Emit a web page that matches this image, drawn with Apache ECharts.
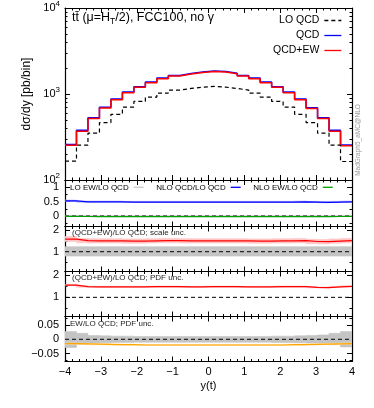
<!DOCTYPE html>
<html><head><meta charset="utf-8">
<script src="https://cdn.jsdelivr.net/npm/echarts@6/dist/echarts.min.js"></script>
<style>html,body{margin:0;padding:0;background:#fff}#c{width:374px;height:408px}</style>
</head><body><div id="c"></div>
<script>
// ---- data ----
const binEdges = [-4,-3.68,-3.36,-3.04,-2.72,-2.4,-2.08,-1.76,-1.44,-1.12,-0.8,-0.48,-0.16,0.16,0.48,0.8,1.12,1.44,1.76,2.08,2.4,2.72,3.04,3.36,3.68,4];
const logTicks = [100, 1000, 10000];
const loQCD = [166,254,350,465,580,705,820,921,1024,1110,1160,1202,1224,1202,1160,1110,1024,921,820,705,580,465,350,254,164];
const qcd   = [258,378,531,703,876,1057,1215,1376,1530,1640,1730,1808,1855,1826,1745,1640,1530,1376,1215,1057,876,693,531,378,255];
const qcdEW = [253,370,519,689,860,1037,1195,1354,1506,1617,1705,1783,1831,1799,1721,1617,1506,1354,1195,1037,860,677,519,370,250];

const loEwOverLo   = [0.003,0.003,0.003,0.003,0.003,0.003,0.003,0.003,0.003,0.003,0.003,0.003,0.003,0.003,0.003,0.003,0.003,0.003,0.003,0.003,0.003,0.003,0.003,0.003,0.003];
const nloQcdOverLo = [0.52,0.49,0.49,0.49,0.49,0.48,0.48,0.48,0.48,0.48,0.48,0.48,0.48,0.48,0.48,0.48,0.48,0.48,0.48,0.48,0.49,0.48,0.47,0.48,0.49];
const nloQcdLo     = [0.50,0.475,0.475,0.475,0.475,0.465,0.465,0.465,0.465,0.465,0.465,0.465,0.465,0.465,0.465,0.465,0.465,0.465,0.465,0.465,0.475,0.465,0.455,0.465,0.475];
const nloQcdHi     = [0.55,0.515,0.515,0.515,0.515,0.505,0.505,0.505,0.505,0.505,0.505,0.505,0.505,0.505,0.505,0.505,0.505,0.505,0.505,0.505,0.515,0.505,0.495,0.505,0.515];
const nloEwOverLo  = [-0.015,-0.016,-0.017,-0.018,-0.019,-0.019,-0.02,-0.02,-0.02,-0.02,-0.02,-0.02,-0.02,-0.02,-0.02,-0.02,-0.02,-0.02,-0.02,-0.019,-0.019,-0.018,-0.017,-0.016,-0.015];

const scaleRatio   = [1.58,1.51,1.50,1.50,1.50,1.49,1.49,1.50,1.51,1.51,1.50,1.50,1.50,1.50,1.50,1.50,1.49,1.49,1.50,1.50,1.51,1.47,1.46,1.49,1.51];
const scaleLo      = [1.47,1.41,1.40,1.40,1.40,1.39,1.39,1.40,1.41,1.41,1.40,1.40,1.40,1.40,1.40,1.40,1.39,1.39,1.40,1.40,1.41,1.37,1.36,1.39,1.41];
const scaleHi      = [1.70,1.61,1.60,1.60,1.60,1.59,1.59,1.60,1.61,1.61,1.60,1.60,1.60,1.60,1.60,1.60,1.59,1.59,1.60,1.60,1.61,1.57,1.56,1.59,1.61];
const loScaleLo    = [0.80,0.80,0.80,0.80,0.80,0.80,0.80,0.80,0.80,0.80,0.80,0.80,0.80,0.80,0.80,0.80,0.80,0.80,0.80,0.80,0.80,0.80,0.80,0.80,0.80];
const loScaleHi    = [1.23,1.23,1.23,1.23,1.23,1.23,1.23,1.23,1.23,1.23,1.23,1.23,1.23,1.23,1.23,1.23,1.23,1.23,1.23,1.23,1.23,1.23,1.23,1.23,1.23];

const pdfRatio     = [1.55,1.48,1.47,1.47,1.47,1.47,1.47,1.48,1.48,1.48,1.47,1.47,1.48,1.48,1.48,1.47,1.47,1.47,1.48,1.48,1.48,1.45,1.44,1.47,1.49];
const pdfLo        = [1.52,1.455,1.445,1.445,1.445,1.445,1.445,1.455,1.455,1.455,1.445,1.445,1.455,1.455,1.455,1.445,1.445,1.445,1.455,1.455,1.455,1.425,1.415,1.445,1.465];
const pdfHi        = [1.58,1.505,1.495,1.495,1.495,1.495,1.495,1.505,1.505,1.505,1.495,1.495,1.505,1.505,1.505,1.495,1.495,1.495,1.505,1.505,1.505,1.475,1.465,1.495,1.515];

const ewOverLo     = [-0.015,-0.016,-0.017,-0.018,-0.019,-0.019,-0.02,-0.02,-0.02,-0.02,-0.02,-0.02,-0.02,-0.02,-0.02,-0.02,-0.02,-0.02,-0.02,-0.019,-0.019,-0.018,-0.017,-0.016,-0.015];
const ewLo         = [-0.017,-0.018,-0.019,-0.02,-0.021,-0.021,-0.022,-0.022,-0.022,-0.022,-0.022,-0.022,-0.022,-0.022,-0.022,-0.022,-0.022,-0.022,-0.022,-0.021,-0.021,-0.02,-0.019,-0.018,-0.017];
const ewHi         = [-0.013,-0.014,-0.015,-0.016,-0.017,-0.017,-0.018,-0.018,-0.018,-0.018,-0.018,-0.018,-0.018,-0.018,-0.018,-0.018,-0.018,-0.018,-0.018,-0.017,-0.017,-0.016,-0.015,-0.014,-0.013];
const loPdfLo      = [-0.029,-0.018,-0.013,-0.012,-0.011,-0.011,-0.01,-0.01,-0.01,-0.01,-0.01,-0.01,-0.01,-0.01,-0.01,-0.01,-0.01,-0.01,-0.011,-0.011,-0.012,-0.013,-0.014,-0.019,-0.027];
const loPdfHi      = [0.027,0.021,0.013,0.012,0.011,0.011,0.01,0.01,0.01,0.01,0.01,0.01,0.01,0.01,0.01,0.01,0.01,0.01,0.011,0.011,0.012,0.013,0.015,0.021,0.027];

const refLevels = [0, 1, 1, 0];

// ---- chart ----
const FONT = '"Liberation Sans", Arial, Helvetica, sans-serif';
const steps = vals => binEdges.map((e, i) => [e, vals[Math.min(i, vals.length - 1)]]);
const minus = v => (v < 0 ? '\u2212' + String(-v) : String(v));

const grids = [
  {left: 65, width: 287, top: 7.5, height: 172.5},
  {left: 65, width: 287, top: 180, height: 46.5},
  {left: 65, width: 287, top: 226.5, height: 45},
  {left: 65, width: 287, top: 271.5, height: 45},
  {left: 65, width: 287, top: 316.5, height: 45}
];
const yRanges = [null, [-0.36, 1.24, 0.5], [0.09, 2.16, 1], [0.14, 2.16, 1], [-0.078, 0.08, 0.05]];

const lineAx = {show: true, onZero: false, lineStyle: {color: '#000', width: 1.2}};
const tickAx = {show: true, inside: true, length: 5, lineStyle: {color: '#000', width: 1}};

const xAxes = [], yAxes = [];
grids.forEach((g, gi) => {
  ['bottom', 'top'].forEach(pos => {
    const last = gi === 4 && pos === 'bottom';
    xAxes.push({
      type: 'value', gridIndex: gi, position: pos, min: -4, max: 4, interval: 1,
      axisLine: lineAx, axisTick: tickAx,
      minorTick: {show: true, splitNumber: 5, length: 2.5, lineStyle: {color: '#000', width: 1}},
      splitLine: {show: false},
      axisLabel: {show: last, margin: 5, fontSize: 11, color: '#000', fontFamily: FONT, formatter: minus},
      name: last ? 'y(t)' : '', nameLocation: 'middle', nameGap: 19,
      nameTextStyle: {fontSize: 11, color: '#000', fontFamily: FONT}
    });
  });
  ['left', 'right'].forEach(pos => {
    if (gi === 0) {
      yAxes.push({
        type: 'log', logBase: 10, gridIndex: 0, position: pos, min: logTicks[0], max: logTicks[2],
        axisLine: lineAx, axisTick: tickAx,
        minorTick: {show: true, splitNumber: 9, length: 2.5, lineStyle: {color: '#000', width: 1}},
        splitLine: {show: false},
        axisLabel: {show: pos === 'left', margin: 5, color: '#000', fontFamily: FONT,
          formatter: v => '{b|10}{p|' + Math.round(Math.log10(v)) + '}',
          rich: {b: {fontSize: 11, fontFamily: FONT, color: '#000'}, p: {fontSize: 8, fontFamily: FONT, color: '#000', padding: [0, 0, 8, 0]}}},
        name: pos === 'left' ? 'd\u03c3/dy [pb/bin]' : '', nameLocation: 'middle', nameGap: 32,
        nameTextStyle: {fontSize: 12, color: '#000', fontFamily: FONT}
      });
    } else {
      const r = yRanges[gi];
      yAxes.push({
        type: 'value', gridIndex: gi, position: pos, min: r[0], max: r[1], minInterval: r[2], maxInterval: r[2],
        axisLine: lineAx, axisTick: tickAx,
        minorTick: {show: true, splitNumber: 2, length: 2.5, lineStyle: {color: '#000', width: 1}},
        splitLine: {show: false},
        axisLabel: {show: pos === 'left', margin: 6, fontSize: 11, color: '#000', fontFamily: FONT,
          showMinLabel: false, showMaxLabel: false, formatter: minus}
      });
    }
  });
});

function stepLine(name, gi, vals, color, width, z, dash) {
  return {type: 'line', name, xAxisIndex: 2 * gi, yAxisIndex: 2 * gi, data: steps(vals), step: 'end',
    symbol: 'none', z, silent: true, animation: false,
    lineStyle: {color, width, type: dash || 'solid'}, itemStyle: {color}};
}
function band(gi, lo, hi, color, z) {
  return {type: 'custom', xAxisIndex: 2 * gi, yAxisIndex: 2 * gi, z, clip: true, silent: true, animation: false,
    encode: {x: [0, 1], y: [2, 3]},
    data: lo.map((l, i) => [binEdges[i], binEdges[i + 1], l, hi[i]]),
    renderItem(params, api) {
      const a = api.coord([api.value(0), api.value(3)]);
      const b = api.coord([api.value(1), api.value(2)]);
      return {type: 'rect', shape: {x: a[0], y: a[1], width: b[0] - a[0], height: b[1] - a[1]},
        style: {fill: color, stroke: color, lineWidth: 0.6}};
    }};
}
function refLine(gi, lvl) {
  return {type: 'line', xAxisIndex: 2 * gi, yAxisIndex: 2 * gi, symbol: 'none', z: 4, silent: true, animation: false,
    data: [[binEdges[0], lvl], [binEdges[binEdges.length - 1], lvl]],
    lineStyle: {color: '#000', width: 1, type: [4, 3]}};
}

const series = [
  stepLine('QCD', 0, qcd, '#0000ff', 1.5, 5),
  stepLine('QCD+EW', 0, qcdEW, '#ff0000', 1.5, 6),
  stepLine('LO QCD', 0, loQCD, '#000000', 1.2, 7, [4, 3]),

  band(1, nloQcdLo, nloQcdHi, '#b4b4ff', 1),
  stepLine('LO EW/LO QCD', 1, loEwOverLo, '#cccccc', 1.2, 3),
  refLine(1, refLevels[0]),
  stepLine('NLO QCD/LO QCD', 1, nloQcdOverLo, '#0000ff', 1.2, 5),
  stepLine('NLO EW/LO QCD', 1, nloEwOverLo, '#00a000', 1.2, 5),

  band(2, loScaleLo, loScaleHi, '#c4c4c4', 1),
  band(2, scaleLo, scaleHi, '#ffc4c4', 2),
  refLine(2, refLevels[1]),
  stepLine('scale', 2, scaleRatio, '#ff0000', 1.2, 5),

  band(3, pdfLo, pdfHi, '#ffc4c4', 2),
  refLine(3, refLevels[2]),
  stepLine('pdf', 3, pdfRatio, '#ff0000', 1.2, 5),

  band(4, loPdfLo, loPdfHi, '#c4c4c4', 1),
  band(4, ewLo, ewHi, '#ffe0a8', 2),
  refLine(4, refLevels[3]),
  stepLine('ew', 4, ewOverLo, '#ffa500', 1.2, 5)
];

const txt = {fontFamily: FONT, fontWeight: 'normal', color: '#000'};
const option = {
  animation: false,
  backgroundColor: '#fff',
  grid: grids,
  xAxis: xAxes,
  yAxis: yAxes,
  title: [
    {left: 72, top: 10, padding: 0, text: '{n|tt\u0304 (\u03bc=H}{s|T}{n|/2), FCC100, no \u03b3}',
      textStyle: Object.assign({}, txt, {fontSize: 12.5, rich: {n: {fontSize: 12.5, fontFamily: FONT, color: '#000'}, s: {fontSize: 8.5, fontFamily: FONT, color: '#000', padding: [7, 0, 0, 0]}}})},
    {left: 72, top: 228.5, padding: 0, text: '(QCD+EW)/LO QCD; scale unc.', textStyle: Object.assign({}, txt, {fontSize: 8, color: '#222'})},
    {left: 72, top: 273.8, padding: 0, text: '(QCD+EW)/LO QCD; PDF unc.', textStyle: Object.assign({}, txt, {fontSize: 8, color: '#222'})},
    {left: 70, top: 319.5, padding: 0, text: 'EW/LO QCD; PDF unc.', textStyle: Object.assign({}, txt, {fontSize: 8, color: '#222'})}
  ],
  legend: [
    {data: ['LO QCD', 'QCD', 'QCD+EW'], orient: 'vertical', right: 32, top: 15, padding: 0, align: 'right',
      itemWidth: 17, itemHeight: 10, itemGap: 4, selectedMode: false, itemStyle: {opacity: 0},
      lineStyle: {width: 1.3},
      textStyle: {fontSize: 10.5, fontFamily: FONT, color: '#000'}},
    {data: ['LO EW/LO QCD', 'NLO QCD/LO QCD', 'NLO EW/LO QCD'], orient: 'horizontal', left: 70, top: 183.3, padding: 0, align: 'right',
      itemWidth: 10, itemHeight: 8, itemGap: 12, selectedMode: false, itemStyle: {opacity: 0},
      lineStyle: {width: 1.3},
      textStyle: {fontSize: 8, fontFamily: FONT, color: '#000'}}
  ],
  graphic: [
    {type: 'text', x: 358, y: 140, rotation: Math.PI / 2,
      style: {text: 'MadGraph5_aMC@NLO', fontSize: 6.5, fontFamily: FONT, fill: '#999', align: 'center', verticalAlign: 'middle'}}
  ],
  series
};
const chart = echarts.init(document.getElementById('c'), null, {renderer: 'canvas'});
chart.setOption(option);
</script></body></html>
